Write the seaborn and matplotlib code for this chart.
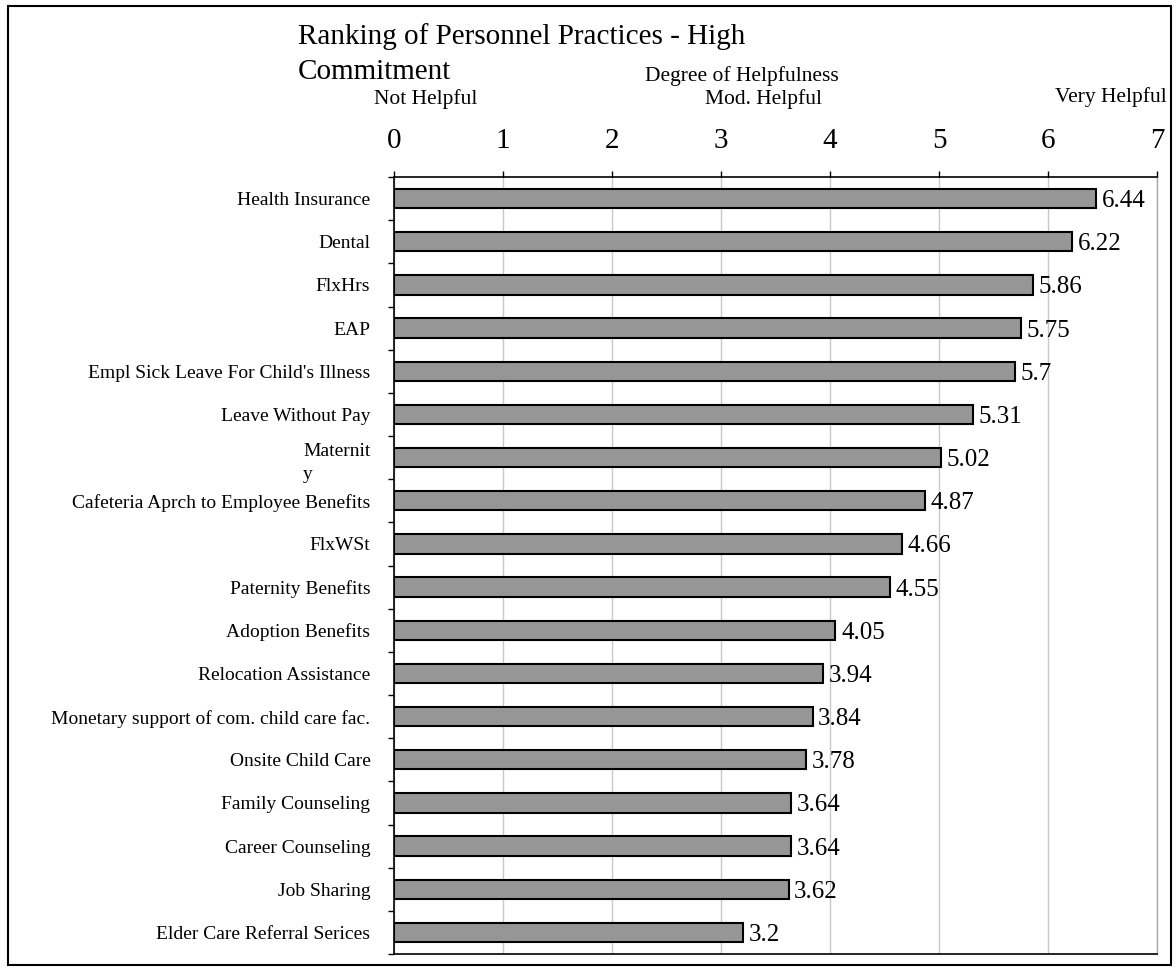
import numpy as np
import pandas as pd
import seaborn as sns
import matplotlib.pyplot as plt
from matplotlib.patches import Rectangle

# Data
practices = ["Health Insurance", "Dental", "FlxHrs", "EAP",
             "Empl Sick Leave For Child's Illness", "Leave Without Pay",
             "Maternit\ny", "Cafeteria Aprch to Employee Benefits", "FlxWSt",
             "Paternity Benefits", "Adoption Benefits", "Relocation Assistance",
             "Monetary support of com. child care fac.", "Onsite Child Care",
             "Family Counseling", "Career Counseling", "Job Sharing",
             "Elder Care Referral Serices"]
scores = [6.44, 6.22, 5.86, 5.75, 5.7, 5.31, 5.02, 4.87, 4.66, 4.55,
          4.05, 3.94, 3.84, 3.78, 3.64, 3.64, 3.62, 3.2]
x_ticks = [0, 1, 2, 3, 4, 5, 6, 7]

df = pd.DataFrame({"practice": practices, "score": scores})

sns.set_style("white")
plt.rcParams['font.family'] = ['Liberation Serif', 'DejaVu Serif']
plt.rcParams['text.color'] = 'black'
plt.rcParams['xtick.color'] = 'black'
plt.rcParams['ytick.color'] = 'black'

W, H = 1174, 968
fig = plt.figure(figsize=(W / 100, H / 100), dpi=100)

def fx(x):
    return x / W

def fy(y):
    return 1 - y / H

ax = fig.add_axes([fx(394), fy(954), (1157 - 394) / W, (954 - 177) / H])

sns.barplot(data=df, x="score", y="practice", orient="h", color="#969696",
            saturation=1, edgecolor="black", linewidth=1.5, width=0.45, ax=ax)

ax.set_xlim(0, 7)
ax.set_ylim(len(practices) - 0.5, -0.5)
ax.set_xticks(x_ticks)
ax.xaxis.tick_top()
ax.tick_params(axis="x", top=True, bottom=False, direction="out", length=4.5,
               width=1, labelsize=21, pad=12, color="black", labelcolor="black")
ax.tick_params(axis="y", which="major", length=0, labelsize=14, pad=17,
               labelcolor="black")
ax.set_yticks(np.arange(-0.5, len(practices), 1), minor=True)
ax.tick_params(axis="y", which="minor", left=True, length=4.5, width=1,
               direction="out", color="black")
ax.set_xlabel("")
ax.set_ylabel("")

ax.grid(axis="x", color="#c8c8c8", linewidth=1)
ax.set_axisbelow(True)

for side in ["left", "top", "bottom"]:
    ax.spines[side].set_color("black")
    ax.spines[side].set_linewidth(1.2)
ax.spines["right"].set_color("#a8a8a8")
ax.spines["right"].set_linewidth(1)

mat = ax.get_yticklabels()[6]
mat.set_multialignment("left")
mat.set_linespacing(1.5)

labels = ax.bar_label(ax.containers[0], labels=[f"{v:g}" for v in scores],
                      padding=4, fontsize=18, color="black")
for t in labels:
    t.set_va("center_baseline")

# header texts
fig.text(fx(298), fy(44), "Ranking of Personnel Practices - High", fontsize=21)
fig.text(fx(298), fy(79), "Commitment", fontsize=21)
fig.text(fx(645), fy(81), "Degree of Helpfulness", fontsize=15.5)
fig.text(fx(374), fy(104), "Not Helpful", fontsize=15.5)
fig.text(fx(705), fy(104), "Mod. Helpful", fontsize=15.5)
fig.text(fx(1167), fy(102), "Very Helpful", fontsize=15.5, ha="right")

# outer border
fig.patches.append(Rectangle((fx(8), fy(965)), fx(1171) - fx(8), fy(6) - fy(965),
                             transform=fig.transFigure, fill=False,
                             edgecolor="black", linewidth=1.5))

fig.savefig("out.png", dpi=100)
